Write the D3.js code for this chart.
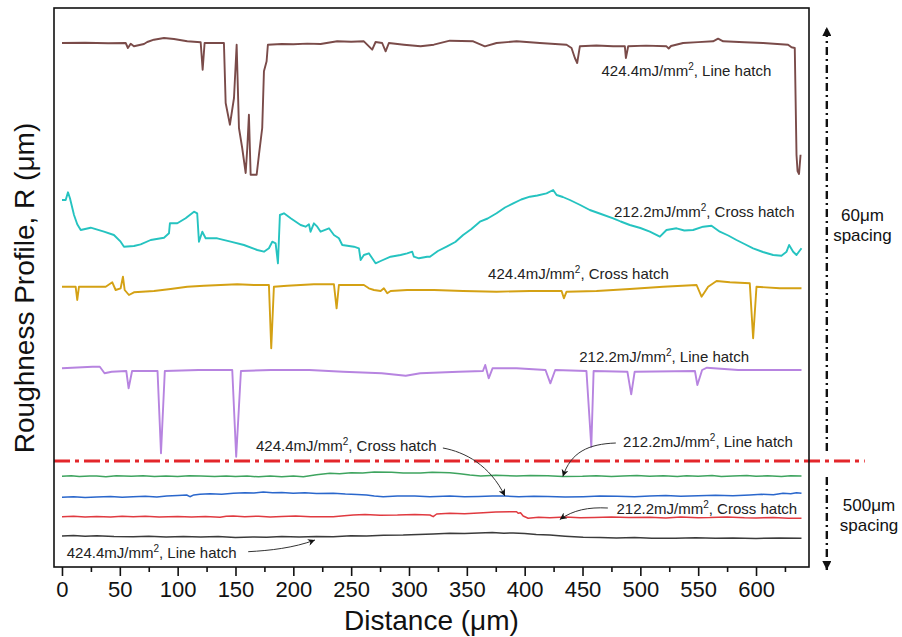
<!DOCTYPE html>
<html>
<head>
<meta charset="utf-8">
<script src="https://cdn.jsdelivr.net/npm/d3@7"></script>
<style>
  html, body { margin: 0; padding: 0; background: #fff; }
  svg { display: block; font-family: "Liberation Sans", Arial, sans-serif; }
</style>
</head>
<body>
<svg id="chart" width="902" height="637"></svg>
<script>
// Surface roughness profiles (stacked with vertical offsets), height in µm vs distance in µm.
// Each profile: [distance, deviation from its baseline]
const brownProfile = [[0,0],[20,0.3],[40,-0.3],[55.1,0],[57.0,-5],[59.4,-0.7],[62.2,-3.3],[70.9,-1],[73.7,1],[79.5,3.3],[88.2,5],[96.8,4],[108.3,1.7],[119.9,0.7],[121.6,-26.7],[123.3,0],[140.0,0],[141.5,-60],[145.2,-81.7],[148.7,-55],[151.0,-1.7],[153.0,-85],[155.8,-105],[158.8,-130],[160.2,-105],[161.6,-71.7],[163.1,-131.7],[168.3,-131.7],[170.3,-111.7],[173.1,-85],[174.6,-28.3],[176.9,-18.3],[178.0,-1.7],[190,-1],[200,-1.3],[212,-0.6],[223.6,-1],[237.9,1.7],[250,1.2],[261.0,1.7],[268.2,-6.7],[271.1,1],[276.8,0],[279.8,-8.3],[282.6,0],[295.6,-1.7],[310.0,-3.3],[321.5,-1.7],[335.3,2.3],[355.5,1.7],[365.6,-3.3],[375.7,0],[393.0,1.7],[413.1,0],[436.2,-1.7],[440.5,-5],[443.4,-15],[445.4,-20],[447.7,-3.3],[462,-2.5],[476.5,-3.3],[486.6,-3.3],[487.5,-15],[489.5,-3.3],[505,-2.6],[522.6,-3.3],[524.5,-5.5],[526.5,-3],[537.0,0],[550,0.9],[562.9,1.7],[567.2,4.3],[571.6,1.7],[590,0.8],[606.1,0],[627.7,-1.7],[630.7,-4.3],[633.5,-5],[635.0,-112],[635.9,-128],[637.2,-131],[638.5,-111.7]];

const cyanProfile = [[0,0],[3.2,0],[5.2,7.7],[6.9,1.7],[10.4,-15],[13.2,-24.3],[16.2,-30],[24.8,-27.7],[36.3,-31.7],[44.9,-35],[50.7,-41.7],[53.6,-46.7],[62.2,-46],[68.0,-44.3],[76.7,-40],[88.2,-37.7],[92.5,-33.3],[93.3,-23.3],[99.7,-23.3],[106.9,-18.3],[114.1,-11.7],[116.9,-13.3],[118.4,-41.7],[121.3,-31.7],[124.2,-38.3],[134.2,-38.3],[145.8,-41.7],[157.3,-45],[168.8,-50],[174.6,-51.7],[178.9,-48.3],[181.8,-41.7],[184.7,-43.3],[186.7,-63.3],[188.4,-15],[191.9,-13.3],[197.7,-18.3],[206.3,-25],[210.6,-26.7],[213.5,-24.3],[214.9,-31.7],[217.8,-23.3],[220.7,-26.7],[223.6,-31.7],[230.8,-28.3],[235.1,-35],[239.4,-38.3],[242.3,-45],[252.4,-46.7],[256.7,-48.3],[258.2,-60],[261.0,-55],[265.3,-53.3],[268.2,-58.3],[271.1,-63.3],[275.5,-61],[284.1,-56.7],[292.7,-55],[298.4,-53.3],[302.8,-51.7],[304.2,-56.7],[308.6,-58.3],[315.7,-56.7],[318.1,-56.7],[325,-51],[332.5,-46.7],[340,-42],[346.8,-35],[354,-29],[361.3,-21.7],[368,-18.5],[375.7,-13.3],[383,-7.5],[390.1,-3.3],[397,0.5],[404.5,3.3],[411,4.5],[418.9,6.7],[424.6,10],[427.6,5],[433,3],[439.1,0],[448,-5],[456.3,-10],[466,-14],[476.5,-18.3],[483,-21.5],[490.9,-25],[500,-28],[508.2,-31.7],[516.9,-36.7],[522.6,-30],[531.3,-28.3],[538,-30.5],[545.6,-30],[554.3,-26.7],[561.5,-25.7],[568.7,-31.7],[576,-35.5],[583.1,-40],[590,-44],[597.5,-48.3],[606,-52],[614.8,-55],[622.0,-55.7],[626.4,-51.7],[628.6,-45],[632.1,-51.7],[635.0,-55],[639.3,-48.3]];

const goldProfile = [[0,0],[11.8,0],[13.2,-13.3],[14.7,0],[37.8,0],[43.5,4.4],[46.4,-3.3],[50.7,-1.6],[52.7,10],[54.2,-3.3],[57.9,-8.3],[62.2,-5.6],[79.5,-4.3],[93.9,-2.3],[108.3,0],[122.7,1],[137.2,1.7],[151.5,2.4],[165.9,1.7],[178.9,1.7],[180.9,-61.6],[183.2,0],[194.7,1],[217.8,2.4],[235.1,2.4],[237.4,-21.6],[239.4,1.7],[261.0,1.7],[265.3,-1.6],[269.7,-3.3],[275.5,-4.3],[278.3,-1.6],[281.2,-6.6],[284.1,-4.3],[298.4,-3.3],[321.5,-3.3],[346.8,-4.3],[375.7,-5],[404.5,-4.3],[431.9,-4.3],[433.9,-11.6],[436.2,-5],[462.1,-4.3],[490.9,-2.3],[519.7,0],[548.6,1.7],[552.9,-10],[555.8,-5],[558.6,0],[565.9,5.7],[577.4,4.4],[594.6,3.4],[597.5,-51.6],[600.4,0],[620.6,-1.6],[639.3,-1.6]];

const purpleProfile = [[0,0],[26.4,1.6],[32.7,1.6],[36.8,-5],[43.0,-3.4],[55.6,-2.7],[57.6,-20],[60.6,-2.7],[82.6,-2.7],[85.6,-85],[88.9,-2.7],[118.1,-1.7],[147.2,-1.7],[150.6,-88.4],[154.7,-2.7],[180.6,-1.7],[213.9,-1.7],[243.0,-3.4],[276.4,-5],[297.2,-7.4],[309.7,-5],[343.0,-3.4],[363.9,-2.7],[365.9,3.3],[368.9,-10],[372.2,0],[393.0,0],[418.0,-1.7],[422.2,-15],[426.4,-1.7],[453.4,-2.7],[457.6,-78.4],[459.6,-2.7],[488.8,-3.4],[492.1,-26],[495.1,-3.4],[547.2,-2.7],[549.3,-16.7],[553.4,-1.7],[557.6,0.6],[584.6,-1.7],[639.3,-1.7]];

const greenProfile = [[0,0],[8,0.6],[15,-0.3],[24,0.4],[30,0.4],[38,-0.4],[47,0.5],[60,0],[70,0.6],[80,-0.3],[90,0.4],[100,-0.2],[110,0.6],[120,0.3],[132,-0.3],[142,0.4],[150,-0.2],[160,0.2],[170,-0.5],[180,0.3],[190,-0.4],[200,0.2],[208.6,-0.4],[220,1.5],[231.6,3],[240,2.5],[250,3.5],[260,3.4],[270,4.3],[285,4],[295,3.2],[310,3.3],[320,4.1],[335.3,3.6],[344,2.5],[352.6,1.3],[362,0.4],[375,1],[393,0.3],[405,0.9],[420,0.6],[433,-0.2],[450,0],[462,0.6],[475,-0.1],[485,0.4],[497,0.9],[508,0],[520,0.5],[532,-0.2],[540,0.6],[550,0.1],[562,0.7],[570,-0.1],[580,0.3],[592,0.8],[600,0],[610,0.5],[622,-0.1],[630,0.6],[639.3,0.3]];

const blueProfile = [[0,0],[10,0.5],[20,-0.2],[30,0.3],[42,0.8],[52,0],[61.4,0.6],[72,1.1],[82,0.4],[90.5,1.3],[100,1.8],[107.8,2.3],[110.6,0.6],[114,2.4],[119.3,3],[128,3.6],[138,3.1],[148.1,4],[158,4.6],[166,4.2],[174,5.3],[182,4.5],[190,4.9],[199.9,4],[210,4.6],[220,3.8],[234.5,4],[245,3.2],[255,2.8],[263.3,2.3],[270,1.4],[277.7,0.6],[290,1.4],[305,1.2],[318,0.5],[335.3,1.3],[348,0.6],[360,0.9],[372,1.4],[382.9,1.3],[395,0.5],[408,1.1],[420,0.8],[435,0.2],[450.6,0.6],[465,1.2],[480,1.1],[495,0.6],[508.2,1.3],[522,1.8],[535,1.1],[550,1.5],[565,2.1],[580,1.6],[594.6,2.3],[605,3],[615,2.6],[623.4,4],[630,3.5],[635,4.6],[639.3,4]];

const redProfile = [[0,0],[10,0.5],[20,-0.3],[30,0.3],[42,-0.4],[52,0.4],[61.6,0],[72,0.5],[84,-0.2],[100,0.2],[112,-0.4],[124,0.3],[136.6,-0.6],[142,0.4],[148.1,0.7],[158,0],[170,0.5],[180,-0.2],[190,0.2],[202,0.6],[215,-0.1],[234.5,0],[244,0.9],[251.8,1.7],[262,2.2],[275,1.4],[290,1.6],[305,2.2],[318.1,1.7],[320.9,0],[323.9,2.7],[335.3,3.4],[348,3.0],[364.1,4],[375,4.6],[387.2,5],[393,5],[394.4,3.4],[396.4,4],[398.7,0.7],[403,-1.6],[412,-0.6],[421.8,-1],[435,-0.4],[448,-1.1],[460,-0.8],[475,-0.2],[490,-0.9],[508.2,-0.6],[522,-1.2],[535,-0.4],[550,-1],[560,-0.9],[575,-0.3],[590,-1.1],[600,-1.2],[615,-0.7],[628,-1.5],[639.3,-1.6]];

const greyProfile = [[0,0],[10,0.4],[20,-0.2],[30,0.2],[45,-0.5],[61.6,-0.7],[75,-0.3],[90,-1],[105,-0.6],[120,-1],[135,-0.6],[150,-1.4],[165,-0.9],[176.9,-1.3],[190,-0.6],[205,-1.1],[220,-0.4],[234.5,-0.7],[250,0.2],[263.3,0],[278,0.8],[295,0.9],[308,1.6],[320.9,2],[335.3,2.7],[348,2.4],[360,3],[372,3.5],[382,2.8],[390,3],[400,2.4],[410,1.6],[421.8,1],[435,-0.2],[450.6,-1.3],[465,-1.5],[479.4,-2],[495,-1.6],[510,-2.2],[530,-2.2],[548,-1.8],[565,-2.3],[580,-2.1],[600,-2.5],[620,-2],[639.3,-2.3]];

// Baseline height (µm) of each stacked profile
const profiles   = [brownProfile, cyanProfile, goldProfile, purpleProfile, greenProfile, blueProfile, redProfile, greyProfile];
const baselines  = [524, 367, 280.3, 198.7, 90.7, 69.7, 50.3, 31];
const lineColors = ["#7a4b49", "#25c3c0", "#d4a114", "#b784e0", "#3ea45f", "#2a67cc", "#e03a40", "#3b3b3b"];
const lineWidths = [1.9, 1.9, 1.9, 1.9, 1.5, 1.5, 1.5, 1.5];

// Axis ticks
const xTickValues  = [0, 50, 100, 150, 200, 250, 300, 350, 400, 450, 500, 550, 600];
const xMinorValues = [25, 75, 125, 175, 225, 275, 325, 375, 425, 475, 525, 575, 625];

// Divider between the two spacing groups
const dividerHeight = 106;

// Sample labels (energy density, hatch strategy)
const labelEnergy = ["424.4mJ/mm", "212.2mJ/mm", "424.4mJ/mm", "212.2mJ/mm", "424.4mJ/mm", "212.2mJ/mm", "212.2mJ/mm", "424.4mJ/mm"];
const labelHatch  = [", Line hatch", ", Cross hatch", ", Cross hatch", ", Line hatch", ", Cross hatch", ", Line hatch", ", Cross hatch", ", Line hatch"];
const labelAnchor = [[466.4, 491], [477.2, 350.3], [368.4, 288], [447.2, 205.3], [167.7, 116.3], [485.1, 120.3], [479.4, 53], [4.1, 8.7]];
// Leader arrows: [start, control1, control2, end] in data units (null = no arrow)
const labelArrows = [null, null, null, null,
  [[329.3, 119], [348.3, 115], [369.9, 102], [382.9, 71]],
  [[478.8, 124], [455, 123], [440, 115], [433, 90.5]],
  [[471.9, 59], [455, 60], [442, 57], [430.4, 47.5]],
  [[161, 15.3], [180, 16.5], [200, 19], [218.7, 27]]];

const svg = d3.select("#chart");
const x = d3.scaleLinear().domain([-6.9, 645.8]).range([54, 809]);
const y = d3.scaleLinear().domain([0, 559]).range([567, 8]);

const defs = svg.append("defs");
defs.append("marker")
  .attr("id", "head").attr("viewBox", "0 0 10 10")
  .attr("refX", 10).attr("refY", 5)
  .attr("markerWidth", 11).attr("markerHeight", 7)
  .attr("markerUnits", "userSpaceOnUse")
  .attr("orient", "auto")
  .append("path").attr("d", "M0,0 L10,5 L0,10 L3,5 Z").attr("fill", "#111");
defs.append("marker")
  .attr("id", "bighead").attr("viewBox", "0 0 10 10")
  .attr("refX", 10).attr("refY", 5)
  .attr("markerWidth", 15).attr("markerHeight", 9)
  .attr("markerUnits", "userSpaceOnUse")
  .attr("orient", "auto")
  .append("path").attr("d", "M0,0 L10,5 L0,10 Z").attr("fill", "#111");

// Profiles
const line = d3.line().x(d => x(d[0])).y(d => y(d[1]));
profiles.forEach((p, i) => {
  svg.append("path")
    .datum(p.map(d => [d[0], baselines[i] + d[1]]))
    .attr("d", line)
    .attr("fill", "none")
    .attr("stroke", lineColors[i])
    .attr("stroke-width", lineWidths[i])
    .attr("stroke-linejoin", "round");
});

// Dash-dot divider
svg.append("line")
  .attr("x1", x.range()[0]).attr("x2", x(694))
  .attr("y1", y(dividerHeight)).attr("y2", y(dividerHeight))
  .attr("stroke", "#e3262b").attr("stroke-width", 2.8)
  .attr("stroke-dasharray", "16,5,4,5");

// Plot frame
svg.append("rect")
  .attr("x", 54).attr("y", 8).attr("width", 755).attr("height", 559)
  .attr("fill", "none").attr("stroke", "#111").attr("stroke-width", 1.6);

// Bottom axis
const axisMajor = d3.axisBottom(x).tickValues(xTickValues).tickSize(9).tickPadding(5).tickFormat(d3.format("d"));
const gx = svg.append("g").attr("transform", "translate(0,567)").call(axisMajor);
gx.select(".domain").remove();
gx.selectAll(".tick line").attr("stroke", "#111").attr("stroke-width", 1.6);
gx.selectAll(".tick text").attr("font-size", 22).attr("fill", "#111")
  .attr("font-family", "Liberation Sans, Arial, sans-serif");
const gxm = svg.append("g").attr("transform", "translate(0,567)")
  .call(d3.axisBottom(x).tickValues(xMinorValues).tickSize(5).tickFormat(""));
gxm.select(".domain").remove();
gxm.selectAll(".tick line").attr("stroke", "#111").attr("stroke-width", 1.6);

// Axis titles
svg.append("text")
  .attr("x", 431.5).attr("y", 630)
  .attr("text-anchor", "middle").attr("font-size", 28).attr("fill", "#111")
  .text("Distance (μm)");
svg.append("text")
  .attr("transform", "translate(34,288) rotate(-90)")
  .attr("text-anchor", "middle").attr("font-size", 28).attr("fill", "#111")
  .text("Roughness Profile, R (μm)");

// Sample labels with leader arrows
labelEnergy.forEach((e, i) => {
  const t = svg.append("text")
    .attr("x", x(labelAnchor[i][0])).attr("y", y(labelAnchor[i][1]))
    .attr("font-size", 15).attr("fill", "#222");
  t.append("tspan").text(e);
  t.append("tspan").attr("font-size", 10).attr("dy", -6).text("2");
  t.append("tspan").attr("dy", 6).text(labelHatch[i]);
  const a = labelArrows[i];
  if (a) {
    const p = d3.path();
    p.moveTo(x(a[0][0]), y(a[0][1]));
    p.bezierCurveTo(x(a[1][0]), y(a[1][1]), x(a[2][0]), y(a[2][1]), x(a[3][0]), y(a[3][1]));
    svg.append("path").attr("d", p.toString())
      .attr("fill", "none").attr("stroke", "#333").attr("stroke-width", 1)
      .attr("marker-end", "url(#head)");
  }
});

// Spacing indicator (dash-dot double arrow split at the divider)
const arrowX = x(661.2);
svg.append("line")
  .attr("x1", arrowX).attr("x2", arrowX)
  .attr("y1", y(116)).attr("y2", y(540))
  .attr("stroke", "#111").attr("stroke-width", 2.4)
  .attr("stroke-dasharray", "8,4,2,4")
  .attr("marker-end", "url(#bighead)");
svg.append("line")
  .attr("x1", arrowX).attr("x2", arrowX)
  .attr("y1", y(90)).attr("y2", y(-3))
  .attr("stroke", "#111").attr("stroke-width", 2.4)
  .attr("stroke-dasharray", "8,4,2,4")
  .attr("marker-end", "url(#bighead)");

const spacingText = [["60μm", "spacing", 692, 346, 326], ["500μm", "spacing", 697.7, 56, 36]];
spacingText.forEach(s => {
  svg.append("text").attr("x", x(s[2])).attr("y", y(s[3]))
    .attr("text-anchor", "middle").attr("font-size", 17).attr("fill", "#111").text(s[0]);
  svg.append("text").attr("x", x(s[2])).attr("y", y(s[4]))
    .attr("text-anchor", "middle").attr("font-size", 17).attr("fill", "#111").text(s[1]);
});
</script>
</body>
</html>
